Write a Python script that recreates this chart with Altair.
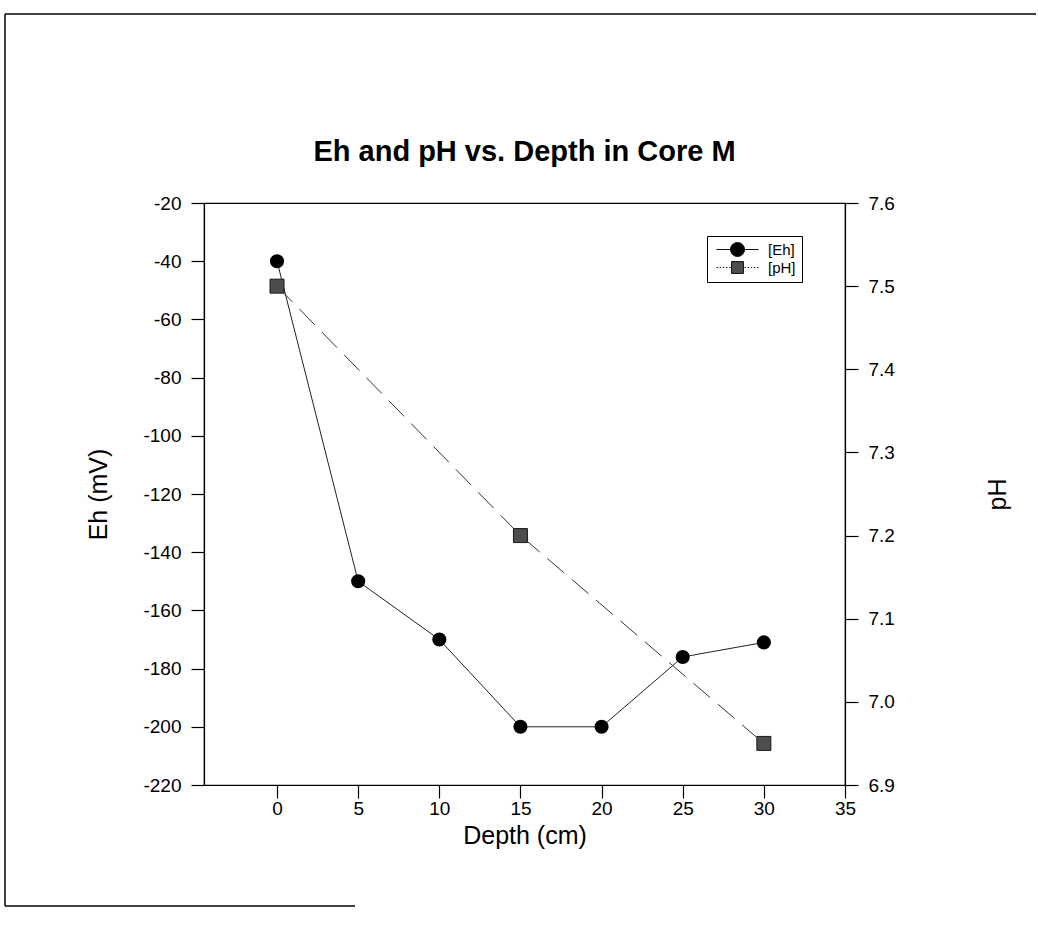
import altair as alt
import pandas as pd

# Sediment core M: redox potential and pH against depth
depth_eh = [0, 5, 10, 15, 20, 25, 30]
eh_mv = [-40, -150, -170, -200, -200, -176, -171]

depth_ph = [0, 15, 30]
ph_vals = [7.50, 7.20, 6.95]

series_names = ["[Eh]", "[pH]"]

x_ticks = [0, 5, 10, 15, 20, 25, 30, 35]
eh_ticks = [-220, -200, -180, -160, -140, -120, -100, -80, -60, -40, -20]
ph_ticks = [6.9, 7.0, 7.1, 7.2, 7.3, 7.4, 7.5, 7.6]

chart_title = "Eh and pH vs. Depth in Core M"

FONT = "Liberation Sans"
W, H = 641, 582

eh_df = pd.DataFrame({"depth": depth_eh, "eh": eh_mv})
ph_df = pd.DataFrame({"depth": depth_ph, "ph": ph_vals})
legend_df = pd.DataFrame({"series": series_names})
frame_df = pd.DataFrame({"k": [0]})

x_enc = alt.X(
    "depth:Q",
    scale=alt.Scale(domain=[-4.5, 35], nice=False, zero=False),
    axis=alt.Axis(values=x_ticks, title="Depth (cm)", titlePadding=5,
                  labelPadding=1, tickSize=13, labelFlush=False),
)

eh_y = alt.Y(
    "eh:Q",
    scale=alt.Scale(domain=[-220, -20], nice=False, zero=False),
    axis=alt.Axis(values=eh_ticks, title="Eh (mV)", orient="left",
                  labelExpr="toString(datum.value)",
                  titlePadding=31, labelPadding=10, tickSize=13),
)

ph_y = alt.Y(
    "ph:Q",
    scale=alt.Scale(domain=[6.9, 7.6], nice=False, zero=False),
    axis=alt.Axis(values=ph_ticks, format=".1f", title="pH", orient="right",
                  titleAngle=270, titlePadding=116, labelPadding=10, tickSize=13),
)

eh_line = alt.Chart(eh_df).mark_line(color="#222222", strokeWidth=1).encode(x=x_enc, y=eh_y)
eh_pts = alt.Chart(eh_df).mark_point(filled=True, color="#000000", size=200, opacity=1,
                                     shape="circle").encode(x=x_enc, y=eh_y)
eh_layer = alt.layer(eh_line, eh_pts)

ph_line = alt.Chart(ph_df).mark_line(color="#333333", strokeWidth=1,
                                     strokeDash=[22, 10]).encode(x=x_enc, y=ph_y)
ph_pts = alt.Chart(ph_df).mark_point(filled=True, color="#4d4d4d", stroke="#1a1a1a",
                                     strokeWidth=1, size=196, opacity=1,
                                     shape="square").encode(x=x_enc, y=ph_y)
ph_layer = alt.layer(ph_line, ph_pts)

# Legend entries: a line segment drawn through the marker symbol
# (solid for Eh, dotted for pH)
EH_SYMBOL = "M-3,0L-1,0M1,0L3,0M1,0A1,1,0,1,1,-1,0A1,1,0,1,1,1,0Z"
PH_SYMBOL = (
    "M-3,0L-2.8,0M-2.55,0L-2.35,0M-2.1,0L-1.9,0M-1.65,0L-1.45,0M-1.2,0L-1,0"
    "M1,0L1.2,0M1.45,0L1.65,0M1.9,0L2.1,0M2.35,0L2.55,0M2.8,0L3,0"
    "M-0.85,-0.85L0.85,-0.85L0.85,0.85L-0.85,0.85Z"
)

legend_def = alt.Legend(
    title=None, orient="none", legendX=503, legendY=33, padding=6,
    strokeColor="black", fillColor="white", symbolSize=196, symbolOffset=17,
    labelOffset=23, labelFont=FONT, labelFontSize=15, labelColor="black",
    rowPadding=0, symbolStrokeWidth=1,
)

legend_layer = alt.Chart(legend_df).transform_filter("false").mark_point(
    filled=True, stroke="#111111", strokeWidth=1, opacity=1
).encode(
    shape=alt.Shape("series:N", scale=alt.Scale(domain=series_names,
                                                range=[EH_SYMBOL, PH_SYMBOL]),
                    legend=legend_def),
    color=alt.Color("series:N", scale=alt.Scale(domain=series_names,
                                                range=["#000000", "#4d4d4d"]),
                    legend=legend_def),
)

# Heading above the plot area
title_text = alt.Chart(frame_df).mark_text(
    font=FONT, fontSize=29, fontWeight="bold", color="black",
    align="center", baseline="alphabetic",
).encode(text=alt.value(chart_title), x=alt.value(W / 2), y=alt.value(-42))

# Page frame: top edge, left edge and a short stretch of the bottom edge
frame_top = alt.Chart(frame_df).mark_rule(color="black", strokeWidth=1.5).encode(
    x=alt.value(-199), x2=alt.value(832), y=alt.value(-189), y2=alt.value(-189))
frame_left = alt.Chart(frame_df).mark_rule(color="black", strokeWidth=1.5).encode(
    x=alt.value(-199), x2=alt.value(-199), y=alt.value(-189), y2=alt.value(703))
frame_bottom = alt.Chart(frame_df).mark_rule(color="black", strokeWidth=1.5).encode(
    x=alt.value(-199), x2=alt.value(151), y=alt.value(703), y2=alt.value(703))

chart = alt.layer(
    frame_top, frame_left, frame_bottom, title_text, eh_layer, ph_layer, legend_layer
).resolve_scale(
    y="independent"
).properties(
    width=W, height=H,
    padding={"left": 4, "top": 13, "right": 0, "bottom": 0},
).configure(
    background="white",
).configure_view(
    stroke="black", strokeWidth=1.2,
).configure_axis(
    grid=False, labelFont=FONT, labelFontSize=19, labelColor="black",
    titleFont=FONT, titleFontSize=25, titleFontWeight="normal", titleColor="black",
    domainColor="black", domainWidth=1.2, tickColor="black", tickWidth=1.2,
)

chart.save("out.html", embed_options={"renderer": "svg", "actions": False})
